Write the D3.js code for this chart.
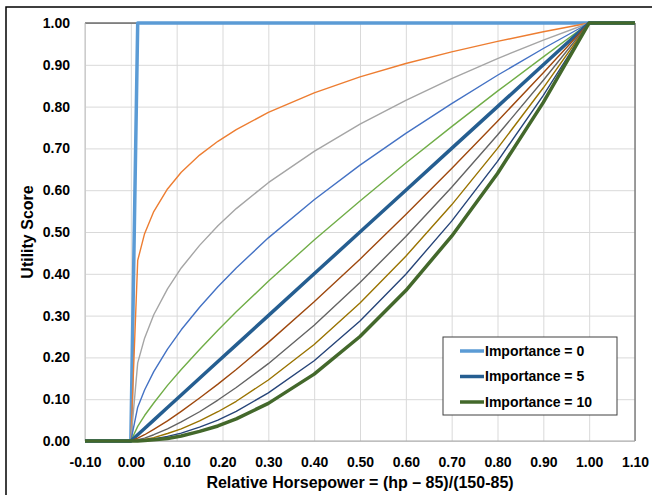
<!DOCTYPE html>
<html>
<head>
<meta charset="utf-8">
<script src="https://cdn.jsdelivr.net/npm/d3@7"></script>
<style>
  body { margin: 0; background: #fff; }
  text { font-family: "Liberation Sans", Arial, sans-serif; font-weight: bold; fill: #000; }
</style>
</head>
<body>
<svg id="chart"></svg>
<script>
// relative horsepower sample points
const xValues = [-0.1, 0, 0.015, 0.03, 0.05, 0.08, 0.11, 0.15, 0.19, 0.23, 0.3, 0.4, 0.5, 0.6, 0.7, 0.8, 0.9, 1.0, 1.1];

// utility score, one array per importance level
const imp0  = [0, 0, 1, 1, 1, 1, 1, 1, 1, 1, 1, 1, 1, 1, 1, 1, 1, 1, 1];
const imp1  = [0, 0, 0.432, 0.496, 0.549, 0.603, 0.643, 0.684, 0.717, 0.745, 0.786, 0.833, 0.871, 0.903, 0.931, 0.956, 0.979, 1, 1];
const imp2  = [0, 0, 0.187, 0.246, 0.302, 0.364, 0.414, 0.468, 0.515, 0.556, 0.618, 0.693, 0.758, 0.815, 0.867, 0.915, 0.959, 1, 1];
const imp3  = [0, 0, 0.081, 0.122, 0.166, 0.220, 0.266, 0.320, 0.369, 0.414, 0.486, 0.577, 0.660, 0.736, 0.807, 0.875, 0.939, 1, 1];
const imp4  = [0, 0, 0.035, 0.061, 0.091, 0.133, 0.171, 0.219, 0.265, 0.309, 0.382, 0.481, 0.574, 0.665, 0.752, 0.837, 0.919, 1, 1];
const imp5  = [0, 0, 0.015, 0.03, 0.05, 0.08, 0.11, 0.15, 0.19, 0.23, 0.3, 0.4, 0.5, 0.6, 0.7, 0.8, 0.9, 1, 1];
const imp6  = [0, 0, 0.007, 0.015, 0.028, 0.048, 0.071, 0.103, 0.136, 0.171, 0.236, 0.333, 0.435, 0.542, 0.652, 0.765, 0.881, 1, 1];
const imp7  = [0, 0, 0.003, 0.007, 0.015, 0.029, 0.046, 0.070, 0.098, 0.128, 0.185, 0.277, 0.379, 0.489, 0.607, 0.732, 0.863, 1, 1];
const imp8  = [0, 0, 0.001, 0.004, 0.008, 0.018, 0.029, 0.048, 0.070, 0.095, 0.146, 0.231, 0.330, 0.442, 0.565, 0.700, 0.845, 1, 1];
const imp9  = [0, 0, 0.001, 0.002, 0.005, 0.011, 0.019, 0.033, 0.050, 0.071, 0.115, 0.192, 0.287, 0.399, 0.526, 0.669, 0.827, 1, 1];
const imp10 = [0, 0, 0, 0.001, 0.003, 0.006, 0.012, 0.023, 0.036, 0.053, 0.09, 0.16, 0.25, 0.36, 0.49, 0.64, 0.81, 1, 1];

const seriesNames = ["Importance = 0", "Importance = 1", "Importance = 2", "Importance = 3", "Importance = 4",
  "Importance = 5", "Importance = 6", "Importance = 7", "Importance = 8", "Importance = 9", "Importance = 10"];
const seriesValues = [imp0, imp1, imp2, imp3, imp4, imp5, imp6, imp7, imp8, imp9, imp10];
const seriesColors = ["#5b9bd5", "#ed7d31", "#a5a5a5", "#4472c4", "#70ad47", "#255e91",
  "#9e480e", "#636363", "#997300", "#264478", "#43682b"];
const legendNames = ["Importance = 0", "Importance = 5", "Importance = 10"];

const xTicks = [-0.1, 0, 0.1, 0.2, 0.3, 0.4, 0.5, 0.6, 0.7, 0.8, 0.9, 1.0, 1.1];
const yTicks = [0, 0.1, 0.2, 0.3, 0.4, 0.5, 0.6, 0.7, 0.8, 0.9, 1.0];

const W = 652, H = 495;
const margin = {top: 23, right: 17, bottom: 54, left: 85};
const width = W - margin.left - margin.right;
const height = H - margin.top - margin.bottom;

const svg = d3.select("#chart").attr("width", W).attr("height", H);

// outer chart frame (cropped on right and bottom)
svg.append("path")
  .attr("d", `M6,${H} V7 H${W}`)
  .attr("fill", "none")
  .attr("stroke", "#000")
  .attr("stroke-width", 1.5);

const chart = svg.append("g").attr("transform", `translate(${margin.left},${margin.top})`);

const x = d3.scaleLinear().domain([-0.1, 1.1]).range([0, width]);
const y = d3.scaleLinear().domain([0, 1]).range([height, 0]);

const fmt = v => v.toFixed(2);

// gridlines
chart.append("g")
  .attr("transform", `translate(0,${height})`)
  .call(d3.axisBottom(x).tickValues(xTicks).tickSize(-height).tickFormat(""))
  .call(g => g.select(".domain").remove())
  .call(g => g.selectAll("line").attr("stroke", "#d9d9d9"));
chart.append("g")
  .call(d3.axisLeft(y).tickValues(yTicks).tickSize(-width).tickFormat(""))
  .call(g => g.select(".domain").remove())
  .call(g => g.selectAll("line").attr("stroke", "#d9d9d9"));

// plot border
chart.append("line").attr("x1", 0).attr("x2", width).attr("y1", 0).attr("y2", 0).attr("stroke", "#262626");
chart.append("line").attr("x1", width).attr("x2", width).attr("y1", 0).attr("y2", height).attr("stroke", "#7f7f7f").attr("stroke-width", 1.5);
chart.append("line").attr("x1", 0).attr("x2", 0).attr("y1", 0).attr("y2", height).attr("stroke", "#bfbfbf");
chart.append("line").attr("x1", 0).attr("x2", width).attr("y1", height).attr("y2", height).attr("stroke", "#a6a6a6");

// axis labels
chart.append("g")
  .attr("transform", `translate(0,${height})`)
  .call(d3.axisBottom(x).tickValues(xTicks).tickSize(0).tickPadding(16).tickFormat(fmt))
  .call(g => g.select(".domain").remove())
  .call(g => g.selectAll("text").style("font-size", "14px").attr("fill", "#000"));
chart.append("g")
  .call(d3.axisLeft(y).tickValues(yTicks).tickSize(0).tickPadding(15).tickFormat(fmt))
  .call(g => g.select(".domain").remove())
  .call(g => g.selectAll("text").style("font-size", "14px").attr("fill", "#000"));

// series
const line = d3.line()
  .x((d, i) => x(xValues[i]))
  .y(d => y(d));

const thick = name => legendNames.includes(name);

chart.selectAll(".series")
  .data(seriesValues)
  .join("path")
  .attr("class", "series")
  .attr("fill", "none")
  .attr("stroke", (d, i) => seriesColors[i])
  .attr("stroke-width", (d, i) => thick(seriesNames[i]) ? 3.5 : 1.4)
  .attr("stroke-linejoin", "round")
  .attr("d", line);

// axis titles
svg.append("text")
  .attr("x", margin.left + width / 2)
  .attr("y", 488)
  .attr("text-anchor", "middle")
  .style("font-size", "16px")
  .text("Relative Horsepower = (hp \u2013 85)/(150-85)");
svg.append("text")
  .attr("transform", `translate(33,${margin.top + height / 2}) rotate(-90)`)
  .attr("text-anchor", "middle")
  .style("font-size", "16px")
  .text("Utility Score");

// legend
const legend = svg.append("g").attr("transform", "translate(443,337)");
legend.append("rect")
  .attr("width", 174).attr("height", 78)
  .attr("fill", "#fff").attr("stroke", "#404040");
const rows = legend.selectAll(".row")
  .data(legendNames)
  .join("g")
  .attr("class", "row")
  .attr("transform", (d, i) => `translate(0,${14 + i * 25.5})`);
rows.append("line")
  .attr("x1", 17).attr("x2", 41)
  .attr("stroke", d => seriesColors[seriesNames.indexOf(d)])
  .attr("stroke-width", 3.5);
rows.append("text")
  .attr("x", 42)
  .attr("dy", "0.35em")
  .style("font-size", "14px")
  .text(d => d);
</script>
</body>
</html>
